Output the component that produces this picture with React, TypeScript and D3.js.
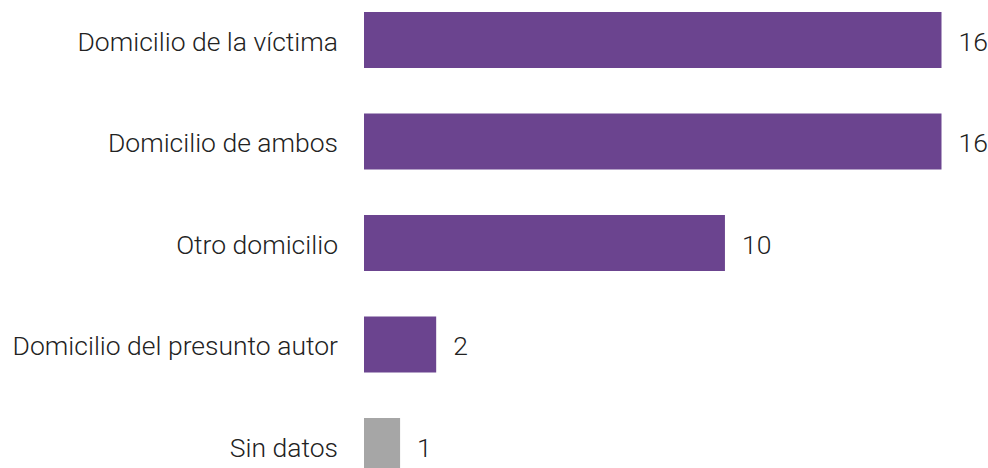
import { useRef, useEffect } from "react";
import * as d3 from "d3";

const categories = [
  "Domicilio de la víctima",
  "Domicilio de ambos",
  "Otro domicilio",
  "Domicilio del presunto autor",
  "Sin datos",
];
const values = [16, 16, 10, 2, 1];
const barColors = ["#6b448f", "#6b448f", "#6b448f", "#6b448f", "#a6a6a6"];

export default function App() {
  const svgRef = useRef<SVGSVGElement>(null);

  useEffect(() => {
    const w = 988;
    const h = 468;
    const left = 364;
    const step = 101.5;
    const barH = 56;

    const x = d3.scaleLinear().domain([0, 16]).range([left, 941.5]);
    const y = d3
      .scaleBand()
      .domain(categories)
      .range([12, 12 + step * 4 + barH])
      .paddingInner(1 - barH / step)
      .paddingOuter(0);

    const svg = d3.select(svgRef.current);
    svg.selectAll("*").remove();
    svg.attr("width", w).attr("height", h);

    const rows = svg
      .selectAll("g.row")
      .data(categories)
      .join("g")
      .attr("class", "row");

    rows
      .append("rect")
      .attr("x", x(0))
      .attr("y", (d) => y(d)!)
      .attr("width", (d, i) => x(values[i]) - x(0))
      .attr("height", y.bandwidth())
      .attr("fill", (d, i) => barColors[i]);

    rows
      .append("text")
      .attr("x", left - 26)
      .attr("y", (d) => y(d)! + y.bandwidth() / 2)
      .attr("dy", "0.4em")
      .attr("text-anchor", "end")
      .attr("font-family", "Roboto")
      .attr("font-weight", 300)
      .attr("font-size", 26.5)
      .attr("fill", "#222")
      .text((d) => d);

    rows
      .append("text")
      .attr("x", (d, i) => x(values[i]) + 17)
      .attr("y", (d) => y(d)! + y.bandwidth() / 2)
      .attr("dy", "0.4em")
      .attr("font-family", "Roboto")
      .attr("font-weight", 300)
      .attr("font-size", 26.5)
      .attr("fill", "#222")
      .text((d, i) => values[i]);
  }, []);

  return (
    <svg
      ref={svgRef}
      style={{ position: "absolute", left: 0, top: 0, display: "block", background: "#fff" }}
    ></svg>
  );
}
